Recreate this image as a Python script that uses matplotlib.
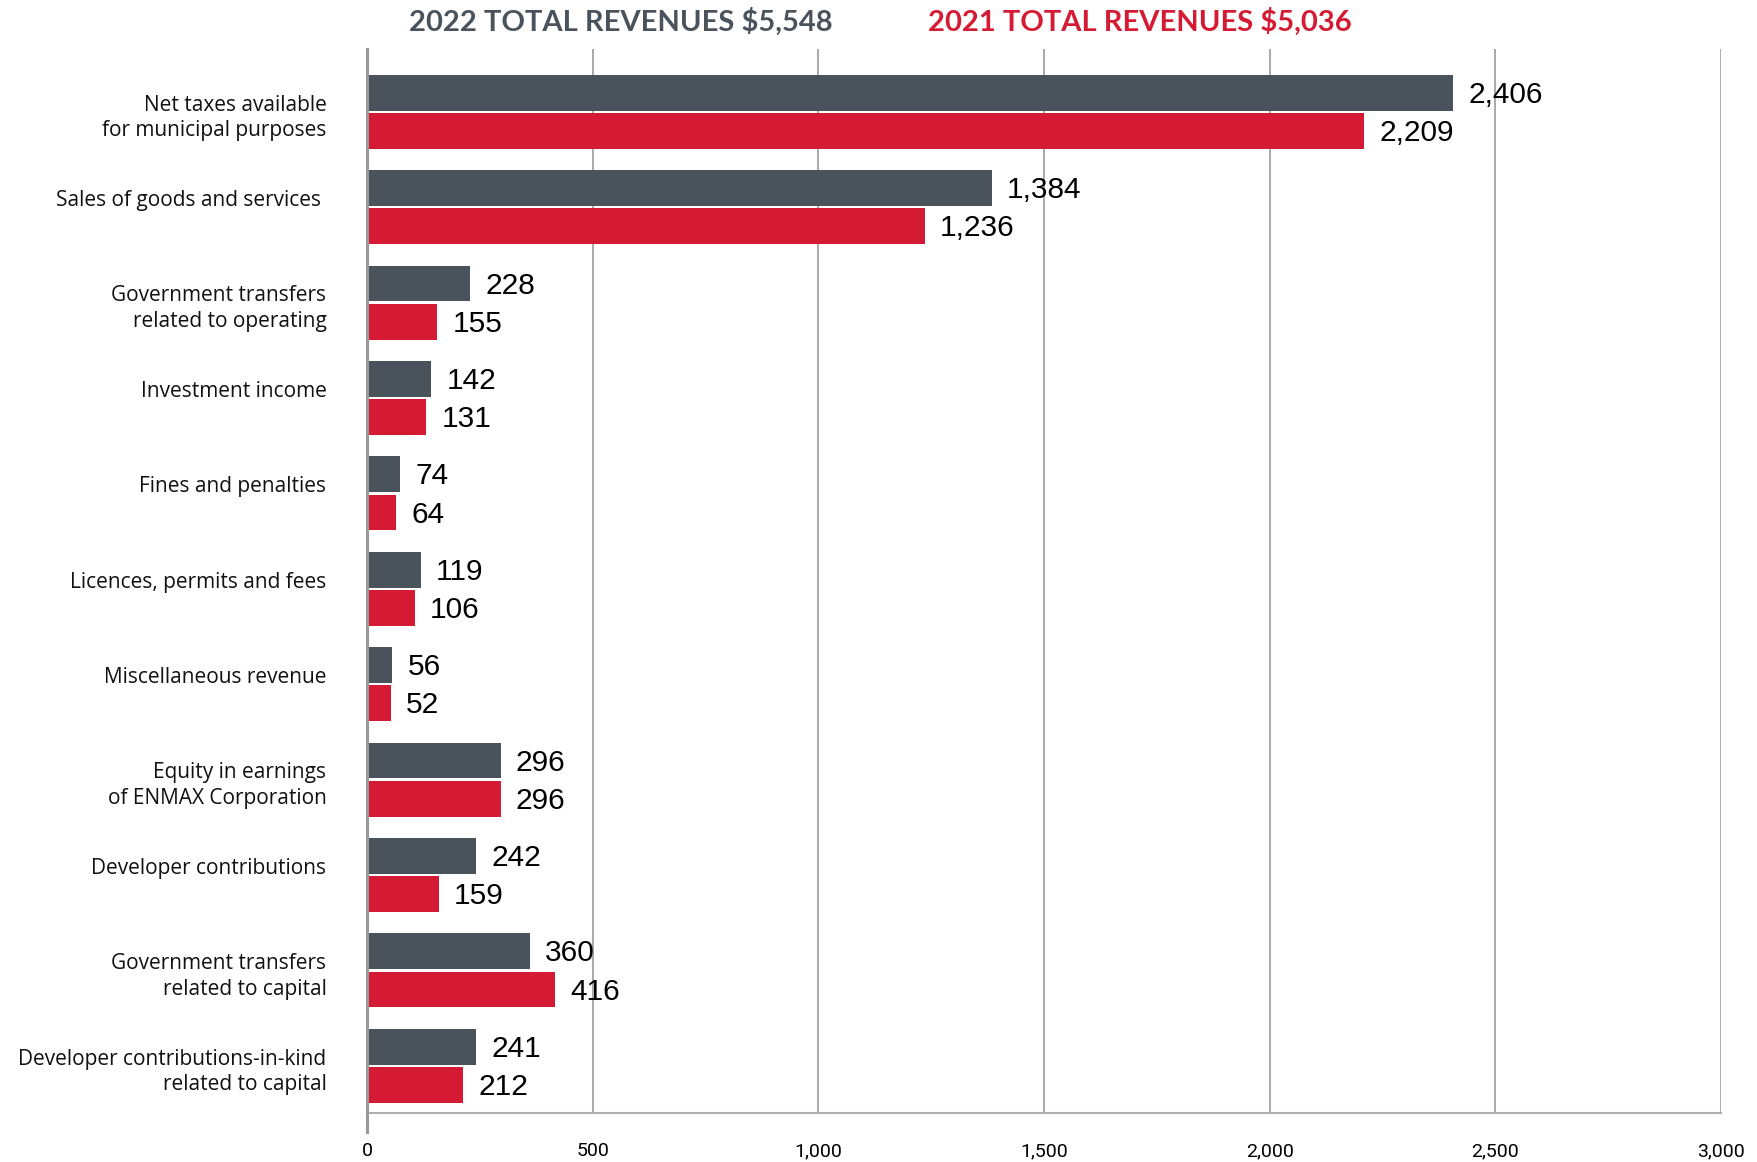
import matplotlib
matplotlib.use('agg')
import matplotlib.pyplot as plt
from matplotlib.lines import Line2D
import numpy as np

categories = [
    "Net taxes available\nfor municipal purposes",
    "Sales of goods and services ",
    "Government transfers\nrelated to operating",
    "Investment income",
    "Fines and penalties",
    "Licences, permits and fees",
    "Miscellaneous revenue",
    "Equity in earnings\nof ENMAX Corporation",
    "Developer contributions",
    "Government transfers\nrelated to capital",
    "Developer contributions-in-kind\nrelated to capital",
]
rev_2022 = [2406, 1384, 228, 142, 74, 119, 56, 296, 242, 360, 241]
rev_2021 = [2209, 1236, 155, 131, 64, 106, 52, 296, 159, 416, 212]
x_ticks = [0, 500, 1000, 1500, 2000, 2500, 3000]
x_tick_labels = ["0", "500", "1,000", "1,500", "2,000", "2,500", "3,000"]
title_2022 = "2022 TOTAL REVENUES \\$5,548"
title_2021 = "2021 TOTAL REVENUES \\$5,036"

GREY = "#4a535c"
RED = "#d51b33"

fig = plt.figure(figsize=(17.58, 11.62), dpi=100)
ax = fig.add_axes([0.2088, 0.0422, 0.7702, 0.9156])

y = np.arange(len(categories))
h = 0.376
ax.barh(y - 0.2, rev_2022, height=h, color=GREY, zorder=3)
ax.barh(y + 0.2, rev_2021, height=h, color=RED, zorder=3)

for yi, v in zip(y - 0.2, rev_2022):
    ax.annotate(f"{v:,}", (v, yi), xytext=(11, -1.5), textcoords="offset points",
                va="center", ha="left", fontsize=21.5, family="Liberation Sans", zorder=4)
for yi, v in zip(y + 0.2, rev_2021):
    ax.annotate(f"{v:,}", (v, yi), xytext=(11, -1.5), textcoords="offset points",
                va="center", ha="left", fontsize=21.5, family="Liberation Sans", zorder=4)

# category labels, first line roughly centred on the group
for yi, lab in zip(y, categories):
    ax.text(-0.03, yi - 0.18, lab, transform=ax.get_yaxis_transform(),
            ha="right", va="top", fontsize=15, family="Open Sans",
            linespacing=1.3, color="#111111")

ax.set_xlim(0, 3000)
ax.set_ylim(len(categories) - 0.506, -0.658)
ax.set_yticks([])
ax.set_xticks(x_ticks)
ax.set_xticklabels(x_tick_labels, family="Roboto", fontsize=14)
ax.tick_params(axis="x", length=0, pad=21)

for xv in x_ticks[1:]:
    ax.axvline(xv, color="#a3a3a3", lw=1.3, zorder=1)

for s in ["top", "right"]:
    ax.spines[s].set_visible(False)
ax.spines["bottom"].set_color("#b0b0b0")
ax.spines["bottom"].set_linewidth(1.5)
ax.spines["left"].set_visible(False)
ax.add_line(Line2D([0, 0], [-0.018, 1], transform=ax.transAxes, color="#999999",
                   lw=2.2, clip_on=False, zorder=5))

fig.text(0.2327, 0.981, title_2022, ha="left", va="center", fontsize=21,
         fontweight="bold", family="Lato", color=GREY)
fig.text(0.528, 0.981, title_2021, ha="left", va="center", fontsize=21,
         fontweight="bold", family="Lato", color=RED)

fig.savefig("out.png", dpi=100)
